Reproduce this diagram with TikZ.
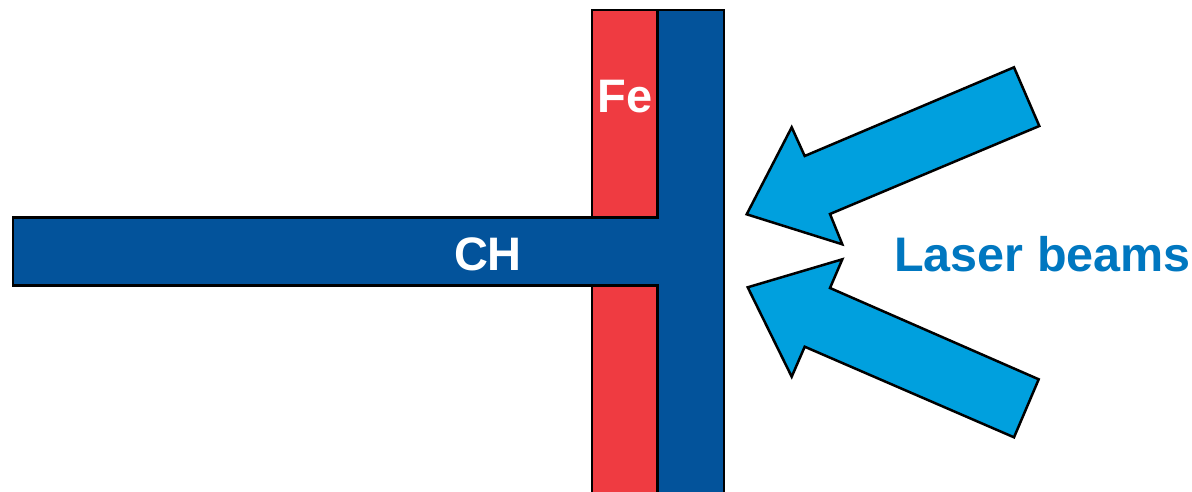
\documentclass[tikz,border=0pt]{standalone}
\usepackage{fontspec}
\setmainfont{Liberation Sans}
\definecolor{feRed}{RGB}{239,59,65}
\definecolor{chBlue}{RGB}{3,83,155}
\definecolor{beamCyan}{RGB}{0,160,222}
\definecolor{labelBlue}{RGB}{0,119,192}
\begin{document}
\begin{tikzpicture}[x=1pt,y=-1pt,
  outline/.style={draw=black,line width=2.5pt,line join=miter},
  slabtext/.style={text=white,font=\fontsize{47}{47}\selectfont\bfseries,inner sep=0pt},
  beam/.style={outline,fill=beamCyan}]
\useasboundingbox (0,0) rectangle (1192,491);
\clip (0,0) rectangle (1192,491);
% Fe layer
\filldraw[outline,fill=feRed] (592,10) rectangle (657.5,500);
% CH T-shaped target
\filldraw[outline,fill=chBlue] (13,217.5) -- (657.5,217.5) -- (657.5,10) -- (724,10) -- (724,500) -- (657.5,500) -- (657.5,285.5) -- (13,285.5) -- cycle;
% laser beams
\filldraw[beam] (1014,67.3) -- (1039.3,126) -- (830,214) -- (842.3,244.3) -- (746.7,214.3) -- (791.7,127.3) -- (804.7,156) -- cycle;
\filldraw[beam] (1014,437.3) -- (1038.7,379.3) -- (830,288) -- (842.3,259.3) -- (747.7,287.3) -- (791.7,376.7) -- (804.7,346.7) -- cycle;
% labels
\node[slabtext] (fe) at (625,97) {Fe};
\node[slabtext] (ch) at (488,254) {CH};
\node[text=labelBlue,font=\fontsize{48.5}{48.5}\selectfont\bfseries,inner sep=0pt,anchor=west] (laser) at (894,254) {Laser beams};
\end{tikzpicture}
\end{document}
